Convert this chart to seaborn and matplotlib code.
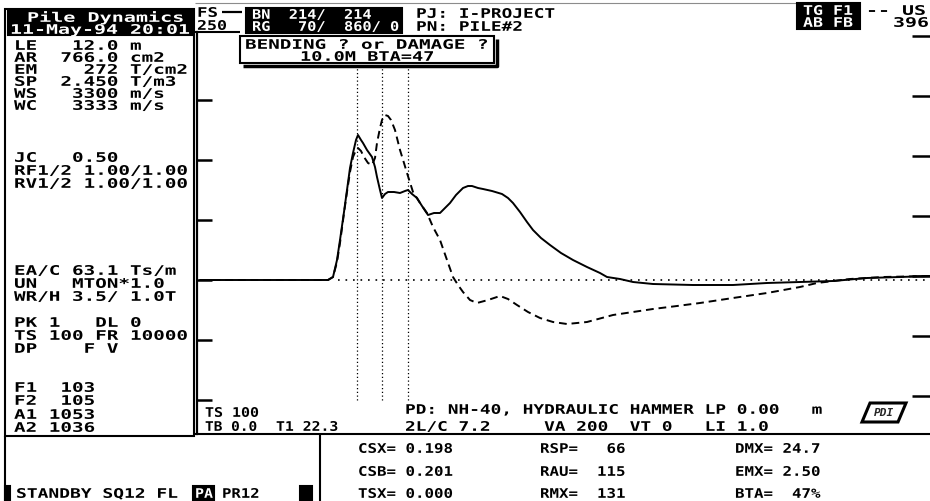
import matplotlib
matplotlib.use("Agg")
import matplotlib.pyplot as plt
import seaborn as sns
from matplotlib.patches import Rectangle, Polygon
from matplotlib.patheffects import AbstractPathEffect
from matplotlib.transforms import Affine2D

# force trace (solid line): time in ms, force in scale units
force_ms = [0, 5, 10, 12.8, 13.3, 13.7, 14.0, 14.4, 14.7, 15.0, 15.3, 15.6, 15.8, 16.1,
            16.3, 16.7, 17.2, 17.5, 17.7, 18.0, 18.2, 18.5, 18.8, 19.4, 20.0, 20.5, 20.8,
            21.2, 21.7, 22.2, 22.8, 23.4, 24.0, 24.5, 25.0, 25.6, 26.3, 26.8, 27.2, 27.8,
            28.3, 29.2, 30.2, 30.8, 31.3, 32.0, 32.7, 33.3, 34.1, 35.0, 36.1, 37.3, 38.7,
            40.0, 40.7, 42.0, 43.3, 45.3, 49.3, 53.3, 56.7, 60.0, 63.3, 66.7, 70.0, 73.0]
force_val = [0, 0, 0, 0, 3, 20, 40, 68, 90, 112, 127, 140, 145, 140,
             137, 130, 123, 113, 103, 90, 82, 86, 88, 88, 87, 89, 90,
             86, 82, 74, 65, 67, 67, 72, 77, 85, 92, 94, 94, 92,
             91, 89, 86, 82, 77, 68, 58, 50, 42, 35, 27, 20, 13,
             7, 3, 1, -2, -4, -5, -5, -3, -2, -1, 2, 3, 4]

# velocity * impedance trace (dashed line)
vel_ms = [0, 5, 10, 12.8, 13.3, 13.7, 14.0, 14.4, 14.7, 15.0, 15.3, 15.6, 15.8, 16.1,
          16.4, 16.8, 17.2, 17.5, 17.7, 18.0, 18.2, 18.5, 18.8, 19.1, 19.5, 20.0, 20.4,
          20.7, 21.3, 22.0, 22.7, 23.3, 24.0, 24.7, 25.3, 25.8, 26.3, 27.0, 27.7, 28.8,
          30.0, 30.8, 31.7, 32.8, 34.0, 35.3, 36.7, 38.7, 41.3, 43.3, 45.3, 47.7, 50.0,
          53.3, 56.7, 60.0, 61.7, 65.0, 68.3, 73.0]
vel_val = [0, 0, 0, 0, 3, 18, 37, 67, 88, 108, 123, 130, 132, 129,
           123, 117, 115, 122, 137, 152, 160, 165, 164, 160, 150, 130, 117,
           107, 88, 77, 67, 53, 40, 20, 3, -5, -12, -20, -23, -20,
           -16, -19, -25, -32, -38, -42, -44, -42, -35, -32, -29, -26, -23,
           -18, -13, -7, -3, 1, 3, 4]

cursor_ms = [15.7, 18.2, 20.8]
left_ticks = [-120, -60, 0, 60, 120, 180]
right_ticks = [-120, -60, 0, 60, 120, 180, 240]

left_lines = ["LE   12.0 m", "AR  766.0 cm2", "EM    272 T/cm2", "SP  2.450 T/m3",
              "WS   3300 m/s", "WC   3333 m/s", "JC   0.50", "RF1/2 1.00/1.00",
              "RV1/2 1.00/1.00", "EA/C 63.1 Ts/m", "UN   MTON*1.0", "WR/H 3.5/ 1.0T",
              "PK 1   DL 0", "TS 100 FR 10000", "DP    F V",
              "F1  103", "F2  105", "A1 1053", "A2 1036"]
left_rows = [45, 57, 69, 81, 93, 105, 157, 170, 183, 270, 283, 296,
             322, 335, 348, 387, 400, 414, 427]

results_col1 = ["CSX= 0.198", "CSB= 0.201", "TSX= 0.000"]
results_col2 = ["RSP=   66", "RAU=  115", "RMX=  131"]
results_col3 = ["DMX= 24.7", "EMX= 2.50", "BTA=  47%"]

FONT_PT = 9.5
PX = FONT_PT * 100 / 72          # em size in pixels
ADV = 0.602 * PX                 # monospace advance
CAP = 0.729 * PX                 # cap height


class Wide(AbstractPathEffect):
    # stretch glyphs horizontally to mimic the wide screen font
    def __init__(self, sx):
        super().__init__()
        self.sx = sx

    def draw_path(self, renderer, gc, tpath, affine, rgbFace=None):
        renderer.draw_path(gc, tpath, Affine2D().scale(self.sx, 1) + affine, rgbFace)


sns.set_theme(style="white")
plt.rcParams["font.family"] = ["DejaVu Sans Mono", "DejaVu Sans"]

fig = plt.figure(figsize=(9.3, 5.01), dpi=100)
bg = fig.add_axes([0, 0, 1, 1])
bg.set_xlim(0, 930)
bg.set_ylim(501, 0)
bg.axis("off")


def put(x, y, s, pitch=11.6, color="black"):
    # x = left edge, y = vertical centre of capitals, pitch = px per character
    bg.text(x, y + CAP / 2, s, color=color, fontsize=FONT_PT, fontweight="bold",
            ha="left", va="baseline", path_effects=[Wide(pitch / ADV)], zorder=5)


def rect(x0, y0, x1, y1, fill=False, lw=1.5):
    bg.add_patch(Rectangle((x0, y0), x1 - x0, y1 - y0, fill=fill, facecolor="black",
                           edgecolor="black", lw=lw, zorder=3))


def seg(xs, ys, lw=1.5, color="black"):
    bg.plot(xs, ys, color=color, lw=lw, solid_capstyle="butt", zorder=3)


# --- trace axes ---
ax = fig.add_axes([197 / 930, 1 - 434 / 501, 733 / 930, 402 / 501])
ax.patch.set_alpha(0)
sns.lineplot(x=force_ms, y=force_val, ax=ax, color="black", linewidth=1.4,
             estimator=None, sort=False)
sns.lineplot(x=vel_ms, y=vel_val, ax=ax, color="black", linewidth=1.4,
             linestyle=(0, (4, 2.5)), estimator=None, sort=False)
ax.hlines(0, 13.8, 73, colors="black", linestyles=(0, (1, 3.5)), lw=1.2)
ax.vlines(cursor_ms, -120, 216, colors="black", linestyles=(0, (1, 2)), lw=0.9)
ax.set_xlim(-0.3, 73)
ax.set_ylim(-154, 248)
ax.set_xticks([])
ax.set_yticks(left_ticks)
ax.tick_params(axis="y", direction="in", length=11, width=1.8, color="black",
               left=True, right=False, labelleft=False, labelright=False)
for s in ["top", "right", "bottom"]:
    ax.spines[s].set_visible(False)
ax.spines["left"].set_color("black")
ax.spines["left"].set_linewidth(1.6)
ax.set_xlabel("")
ax.set_ylabel("")

# right-hand scale marks sit a few pixels higher on the screen
rax = ax.twinx()
rax.set_ylim(-158, 244)
rax.set_yticks(right_ticks)
rax.tick_params(axis="y", direction="in", length=13, width=1.8, color="black",
                right=True, left=False, labelright=False, labelleft=False)
for s in rax.spines.values():
    s.set_visible(False)

# --- left info panel ---
rect(5, 9, 194, 436)
rect(8, 10, 193, 35, fill=True)
put(27, 17, "Pile Dynamics", pitch=12.1, color="white")
put(10, 29, "11-May-94 20:01", pitch=12.0, color="white")
for txt, yy in zip(left_lines, left_rows):
    put(14, yy, txt, pitch=11.6)

# --- header strip ---
seg([195, 800], [3, 3], lw=0.8, color="0.55")
put(197, 12, "FS", pitch=10.5)
seg([222, 242], [12, 12], lw=1.6)
put(197, 25, "250", pitch=10.0)
seg([193, 240], [32, 32])
rect(246, 8, 402, 33, fill=True)
put(252, 14, "BN  214/  214", pitch=9.2, color="white")
put(252, 26, "RG   70/  860/ 0", pitch=9.2, color="white")
put(416, 13, "PJ: I-PROJECT", pitch=10.7)
put(416, 26, "PN: PILE#2", pitch=10.7)
rect(797, 3, 860, 29, fill=True)
put(803, 10, "TG F1", pitch=10.0, color="white")
put(803, 22, "AB FB", pitch=10.0, color="white")
put(866, 10, "-- US", pitch=12.0)
put(893, 22, "396", pitch=12.0)

# message box with shadow
bg.add_patch(Rectangle((240, 36), 254, 27, fill=True, facecolor="white",
                       edgecolor="black", lw=1.5, zorder=4))
seg([243, 497, 497], [66, 66, 39], lw=2.5)
put(245, 44, "BENDING ? or DAMAGE ?", pitch=11.6)
put(300, 56, "10.0M BTA=47", pitch=11.2)

# --- footer under traces ---
put(205, 412, "TS 100", pitch=9.0)
put(205, 426, "TB 0.0", pitch=8.7)
put(276, 426, "T1 22.3", pitch=8.9)
put(405, 409, "PD: NH-40, HYDRAULIC HAMMER LP 0.00   m", pitch=10.7)
put(405, 426, "2L/C 7.2     VA 200  VT 0   LI 1.0", pitch=10.7)
bg.add_patch(Polygon([(862, 422), (870, 403), (906, 403), (898, 422)], closed=True,
                     fill=False, edgecolor="black", lw=2.2, zorder=3))
bg.text(884, 413, "PDI", fontsize=8, fontweight="bold", style="italic",
        ha="center", va="center", zorder=5)

# --- bottom result panel ---
seg([194, 930], [434, 434])
seg([5, 5], [436, 501])
seg([320, 320], [434, 501])
for i, yy in enumerate([448, 471, 493]):
    put(358, yy, results_col1[i], pitch=9.5)
    put(540, yy, results_col2[i], pitch=9.5)
    put(735, yy, results_col3[i], pitch=9.5)

rect(5, 486, 10, 500, fill=True)
put(16, 493, "STANDBY SQ12 FL", pitch=10.8)
rect(193, 486, 214, 500, fill=True)
put(195, 493, "PA", pitch=9.0, color="white")
put(222, 493, "PR12", pitch=9.4)
rect(300, 486, 312, 500, fill=True)

fig.savefig("out.png", dpi=100, facecolor="white")
